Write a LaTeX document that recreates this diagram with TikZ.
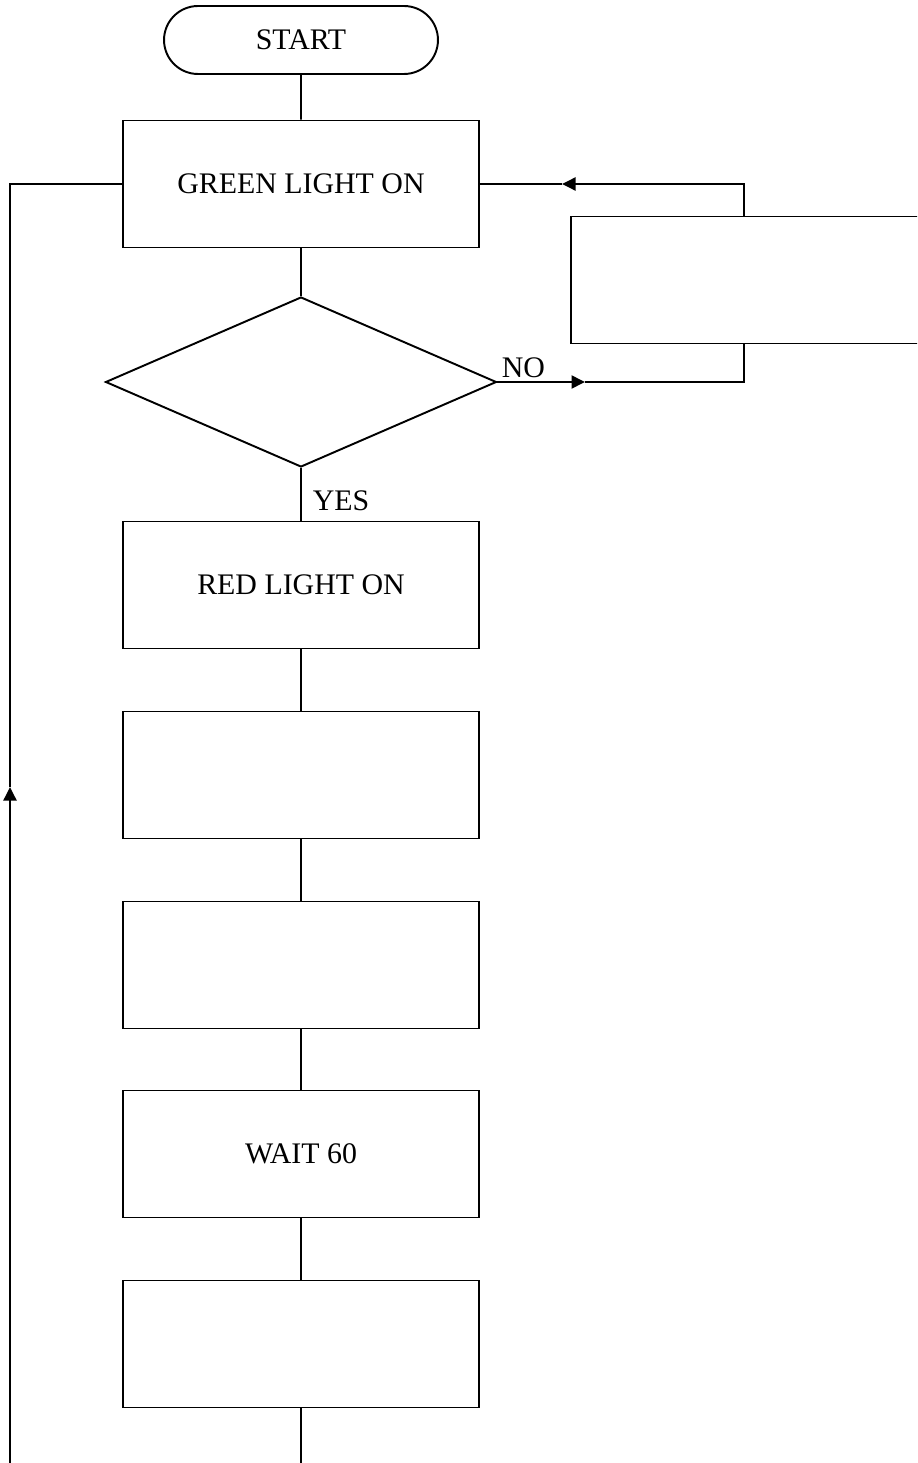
\documentclass[tikz,border=0pt]{standalone}
\usepackage{fontspec}
\setmainfont{Liberation Serif}
\usetikzlibrary{shapes.geometric,shapes.misc,arrows.meta}

\begin{document}
\begin{tikzpicture}[x=0.02cm,y=-0.02cm,line width=1.1pt,font=\fontsize{17}{20}\selectfont,
  box/.style={draw,rectangle,minimum width=7.12cm,minimum height=2.54cm,inner sep=0pt},
  arr/.style={-{Triangle[length=0.27cm,width=0.26cm]}}]

\useasboundingbox (0,0) rectangle (917,1463);
\clip (0,0) rectangle (917,1463);

% flow down the middle
\node[draw,rounded rectangle,minimum width=5.48cm,minimum height=1.36cm,inner sep=0pt] (start) at (301,40) {START};
\node[box] (green) at (301,184) {GREEN LIGHT ON};
\node[draw,diamond,aspect=2.3,minimum width=7.82cm,minimum height=3.4cm,inner sep=0pt] (dec) at (301,382) {};
\node[box] (red) at (301,585) {RED LIGHT ON};
\node[box] (stepa) at (301,775) {};
\node[box] (stepb) at (301,965) {};
\node[box] (wait) at (301,1154) {WAIT 60};
\node[box] (stepc) at (301,1344) {};

% box on the right, runs off the page
\node[box,minimum width=8cm] (side) at (771,280) {};

\coordinate (ret) at (744,184);
\coordinate (tipL) at (562,184);
\coordinate (tipR) at (585,382);
\coordinate (ltop) at (10,184);
\coordinate (ltip) at (10,787);
\coordinate (lbot) at (10,1463);
\coordinate (bot) at (301,1463);

\draw (start) -- (green);
\draw (green) -- (dec);
\draw (dec) -- (red);
\draw (red) -- (stepa);
\draw (stepa) -- (stepb);
\draw (stepb) -- (wait);
\draw (wait) -- (stepc);
\draw (stepc) -- (bot);

\draw (dec.south) node[shift={(0.8cm,-0.66cm)}] {YES};

% NO branch
\draw[arr] (dec.east) node[above right,inner sep=2pt] {NO} -- (tipR);
\draw (tipR) -- (tipR -| ret) -- (side.south -| ret);
\draw[arr] (side.north -| ret) -- (ret) -- (tipL);
\draw (tipL) -- (green.east);

% loop back on the left
\draw[arr] (lbot) -- (ltip);
\draw (ltip) -- (ltop) -- (green.west);

\end{tikzpicture}
\end{document}
